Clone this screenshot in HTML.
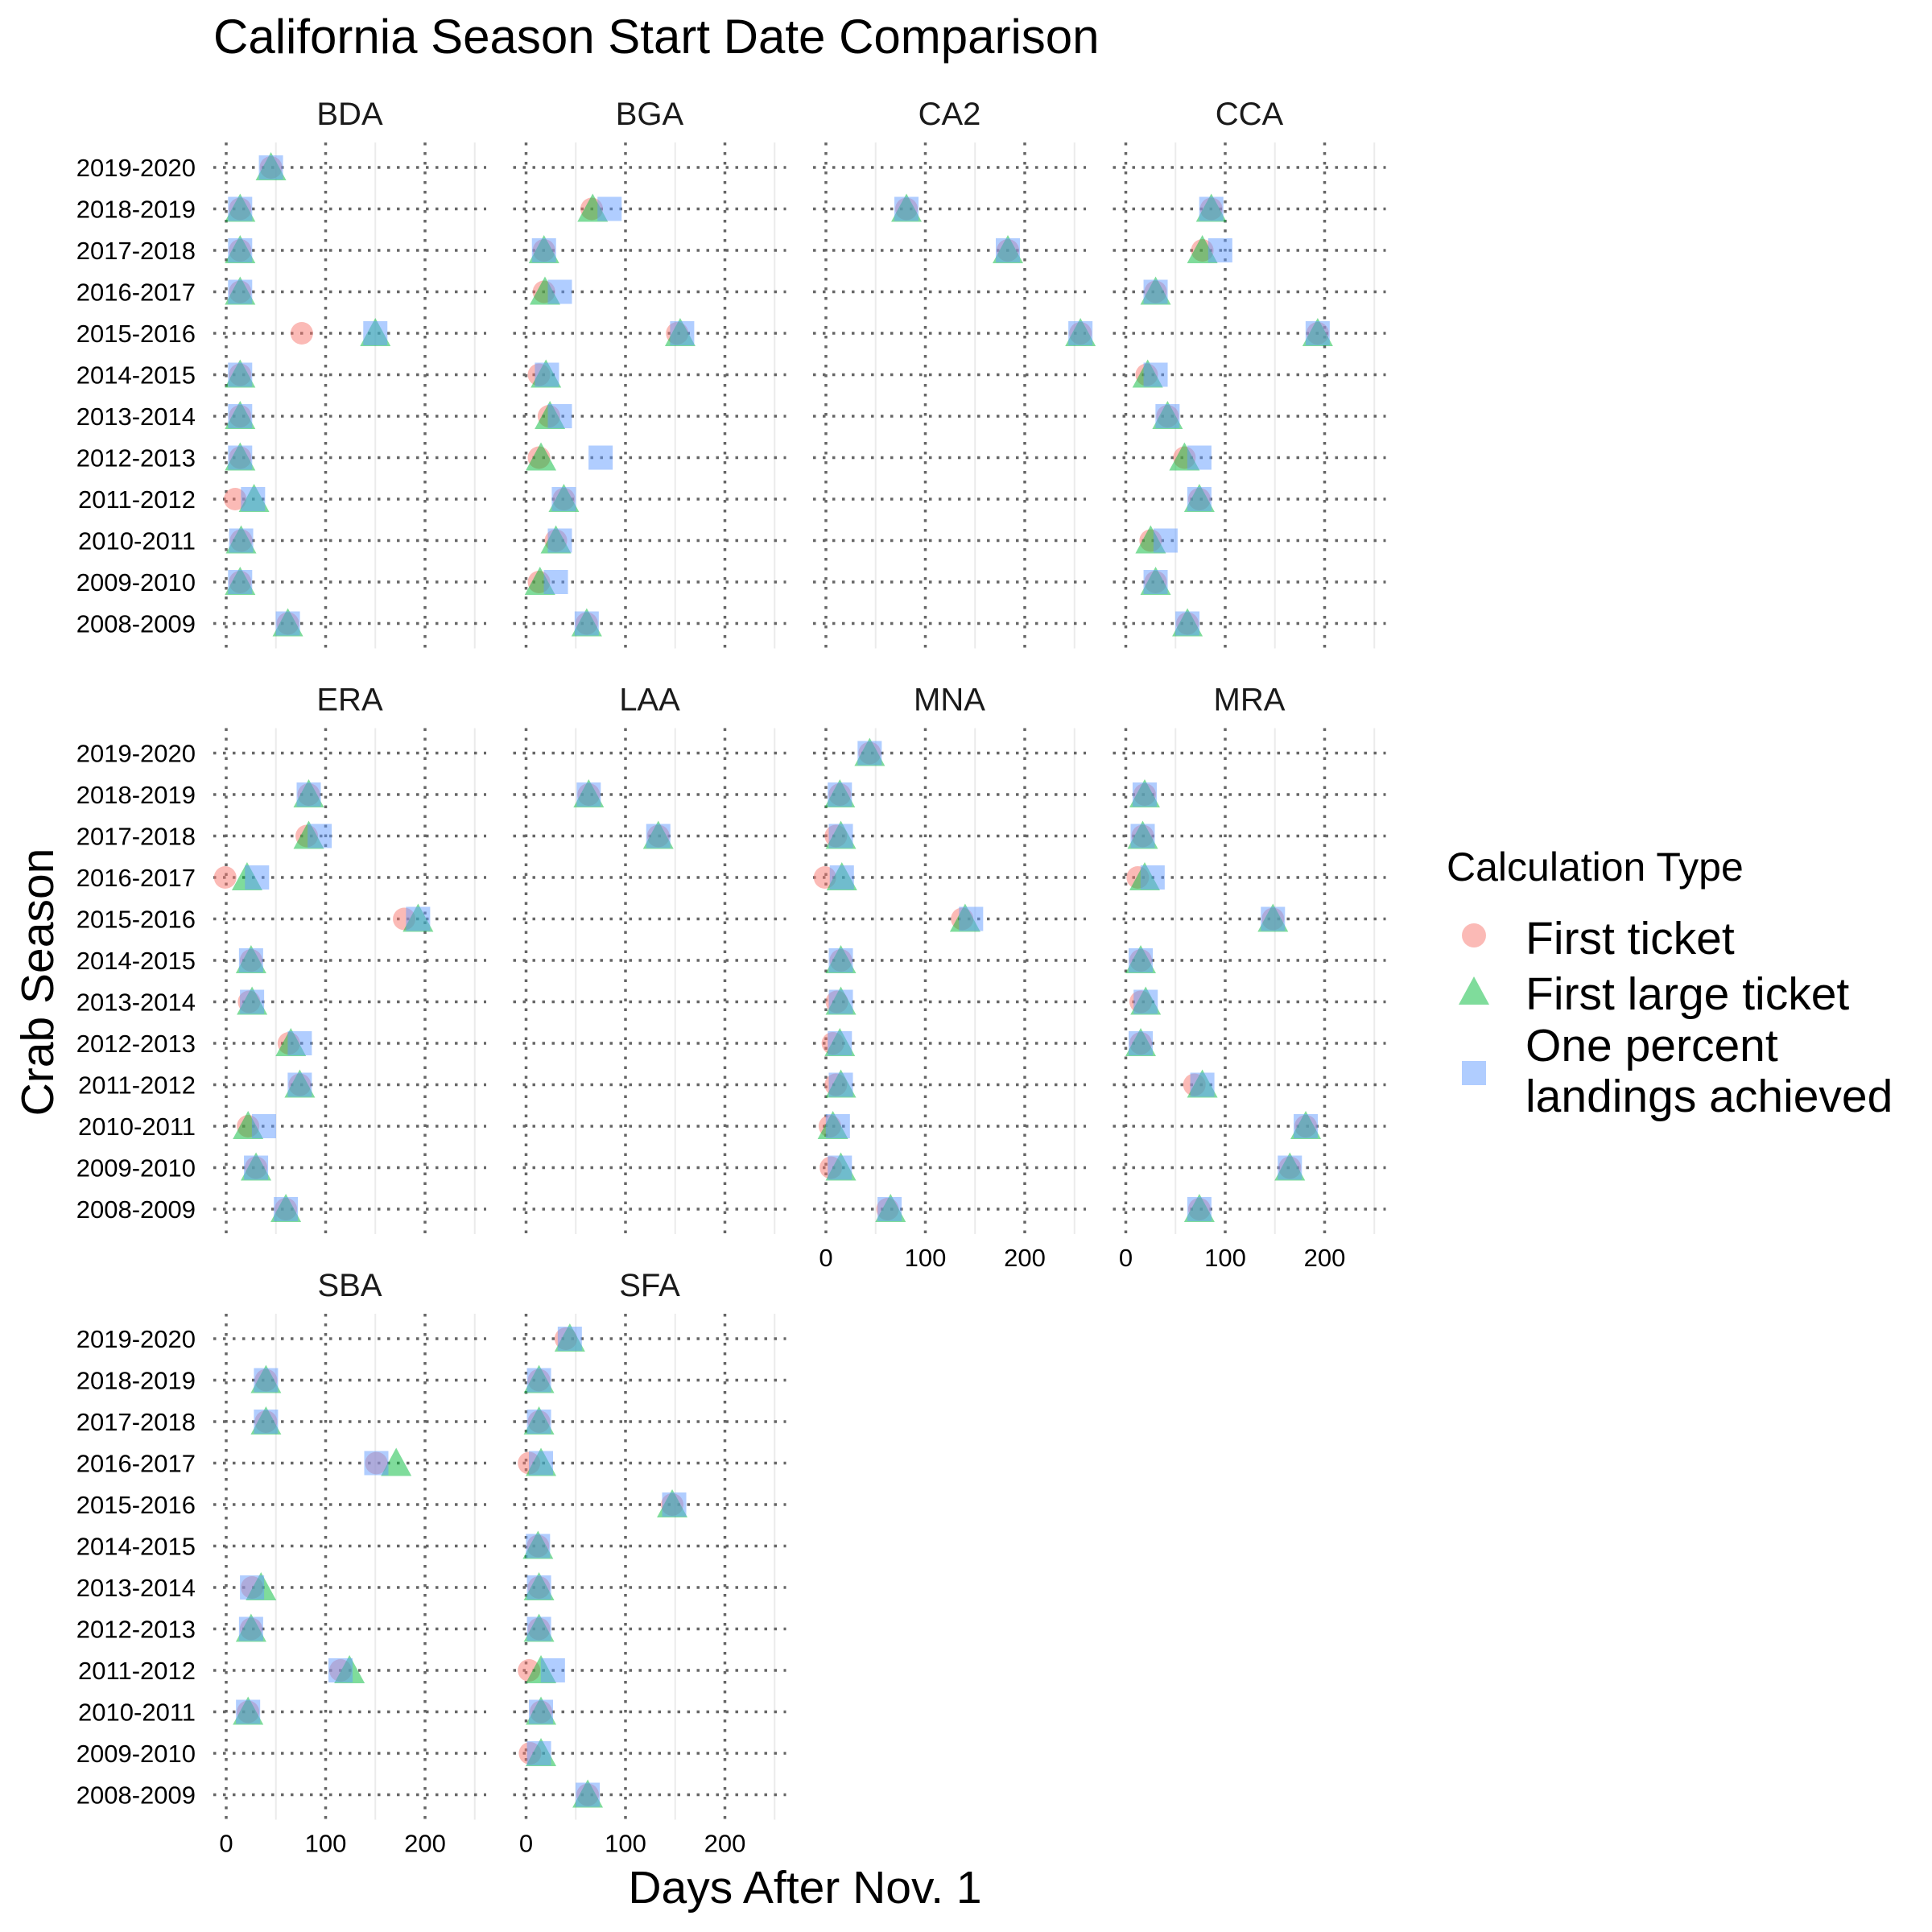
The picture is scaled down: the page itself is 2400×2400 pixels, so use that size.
<!DOCTYPE html>
<html><head><meta charset="utf-8"><style>
html,body{margin:0;padding:0;background:#fff;}
svg{display:block;font-family:"Liberation Sans",Arial,sans-serif;}
</style></head><body>
<svg id="chart" width="2400" height="2400" viewBox="0 0 2400 2400" xmlns="http://www.w3.org/2000/svg">
<rect width="2400" height="2400" fill="#fff"/>
<text x="265" y="66" font-size="60" fill="#000">California Season Start Date Comparison</text>
<text transform="translate(66,1220) rotate(-90)" text-anchor="middle" font-size="57" fill="#000">Crab Season</text>
<text x="1000" y="2364" text-anchor="middle" font-size="57" fill="#000">Days After Nov. 1</text>
<g>
<text x="1797" y="1094" font-size="50" fill="#000">Calculation Type</text>
<circle cx="1831" cy="1162" r="15" fill="#F8766D" fill-opacity="0.5"/>
<text x="1895" y="1185" font-size="57" fill="#000">First ticket</text>
<polygon points="1812,1248 1850,1248 1831,1213" fill="#00BA38" fill-opacity="0.5"/>
<text x="1895" y="1254" font-size="57" fill="#000">First large ticket</text>
<rect x="1816" y="1318" width="30" height="30" fill="#619CFF" fill-opacity="0.5"/>
<text x="1895" y="1318" font-size="57" fill="#000">One percent</text>
<text x="1895" y="1381" font-size="57" fill="#000">landings achieved</text>
</g>
<g id="panels"></g>
</svg>
<script>
const seasons = ["2019-2020","2018-2019","2017-2018","2016-2017","2015-2016","2014-2015","2013-2014","2012-2013","2011-2012","2010-2011","2009-2010","2008-2009"];
const panelNames = ["BDA","BGA","CA2","CCA","ERA","LAA","MNA","MRA","SBA","SFA"];
const xTicks = [0,100,200];
const xMinor = [50,150,250];
const N = null;
// values ordered 2019-2020 ... 2008-2009
const firstTicket = {
 BDA:[45,14,14,14,76,14,14,14,9,15,14,62],
 BGA:[N,66,18,18,152,13,23,13,38,30,13,61],
 CA2:[N,81,183,N,256,N,N,N,N,N,N,N],
 CCA:[N,86,77,30,193,21,42,59,74,25,30,62],
 ERA:[N,83,81,-1,179,25,23,63,74,22,30,60],
 LAA:[N,63,133,N,N,N,N,N,N,N,N,N],
 MNA:[44,14,10,-1,137,15,11,7,10,4,5,62],
 MRA:[N,19,17,12,148,15,15,15,69,181,165,74],
 SBA:[N,40,40,151,N,N,26,25,115,22,N,N],
 SFA:[40,13,13,3,147,12,13,13,3,15,4,62]
};
const firstLarge = {
 BDA:[45,14,14,14,150,14,14,14,28,15,14,62],
 BGA:[N,67,18,19,155,20,24,15,38,30,14,61],
 CA2:[N,81,183,N,256,N,N,N,N,N,N,N],
 CCA:[N,86,77,30,193,22,42,59,74,25,30,62],
 ERA:[N,83,83,21,193,25,26,65,74,22,30,60],
 LAA:[N,63,133,N,N,N,N,N,N,N,N,N],
 MNA:[44,14,15,16,140,15,15,14,15,7,15,65],
 MRA:[N,19,17,19,148,15,20,15,77,181,165,74],
 SBA:[N,40,40,171,N,N,35,25,124,22,N,N],
 SFA:[44,13,13,15,147,12,13,13,15,15,15,62]
};
const onePercent = {
 BDA:[45,14,14,14,150,14,14,14,27,15,14,62],
 BGA:[N,84,18,34,157,21,34,75,38,34,30,61],
 CA2:[N,81,183,N,256,N,N,N,N,N,N,N],
 CCA:[N,86,95,30,193,30,42,74,74,40,30,62],
 ERA:[N,83,94,31,193,25,26,74,74,38,30,60],
 LAA:[N,63,133,N,N,N,N,N,N,N,N,N],
 MNA:[44,14,15,16,146,15,15,14,15,12,14,64],
 MRA:[N,19,17,27,148,15,20,15,77,181,165,74],
 SBA:[N,40,40,151,N,N,26,25,115,22,N,N],
 SFA:[44,13,13,15,149,12,13,13,27,15,13,62]
};

const NS="http://www.w3.org/2000/svg";
const root=document.getElementById('panels');
const PX=1.235, STEP=51.5;
function mk(tag,attrs,parent){const e=document.createElementNS(NS,tag);for(const k in attrs)e.setAttribute(k,attrs[k]);parent.appendChild(e);return e;}
const xTickPanels=["MNA","MRA","SBA","SFA"];
panelNames.forEach((name,idx)=>{
  const col=idx%4,row=Math.floor(idx/4);
  const x0=281+col*372.5, y0=208+row*727.5;
  const xs=d=>x0+d*PX, ys=i=>y0+i*STEP;
  const left=x0-16,right=x0+323,top=y0-31,bottom=ys(11)+31;
  const g=mk('g',{},root);
  
  
  const st=mk('text',{x:(left+right)/2,y:y0-53,'text-anchor':'middle','font-size':40,fill:'#1a1a1a'},g);
  st.textContent=name;
  
  
  xMinor.forEach(v=>{const l=mk('line',{x1:xs(v),x2:xs(v),y1:top,y2:bottom,stroke:'#ebebeb','stroke-width':2},g);
    });
  xTicks.forEach(v=>{const l=mk('line',{x1:xs(v),x2:xs(v),y1:top,y2:bottom,stroke:'#666','stroke-width':3.5,'stroke-dasharray':'3.5 8.5'},g);
    });
  seasons.forEach((s,i)=>{const l=mk('line',{x1:left,x2:right,y1:ys(i),y2:ys(i),stroke:'#666','stroke-width':3.5,'stroke-dasharray':'3.5 8.5'},g);
    
    if(col===0){const t=mk('text',{x:243,y:ys(i)+11,'text-anchor':'end','font-size':31,fill:'#000'},g);t.textContent=s;
      }
  });
  if(xTickPanels.includes(name)){xTicks.forEach(v=>{const t=mk('text',{x:xs(v),y:bottom+40,'text-anchor':'middle','font-size':31,fill:'#000'},g);t.textContent=v;
    });}
  firstTicket[name].forEach((v,i)=>{if(v===null)return;
    const c=mk('circle',{cx:xs(v),cy:ys(i),r:14,fill:'#F8766D','fill-opacity':0.5},g);
    });
  firstLarge[name].forEach((v,i)=>{if(v===null)return;
    const x=xs(v),y=ys(i);
    const p=mk('polygon',{points:`${x-19},${y+16} ${x+19},${y+16} ${x},${y-19}`,fill:'#00BA38','fill-opacity':0.5},g);
    });
  onePercent[name].forEach((v,i)=>{if(v===null)return;
    const r=mk('rect',{x:xs(v)-15,y:ys(i)-15,width:30,height:30,fill:'#619CFF','fill-opacity':0.5},g);
    });
});
</script>
</body></html>
